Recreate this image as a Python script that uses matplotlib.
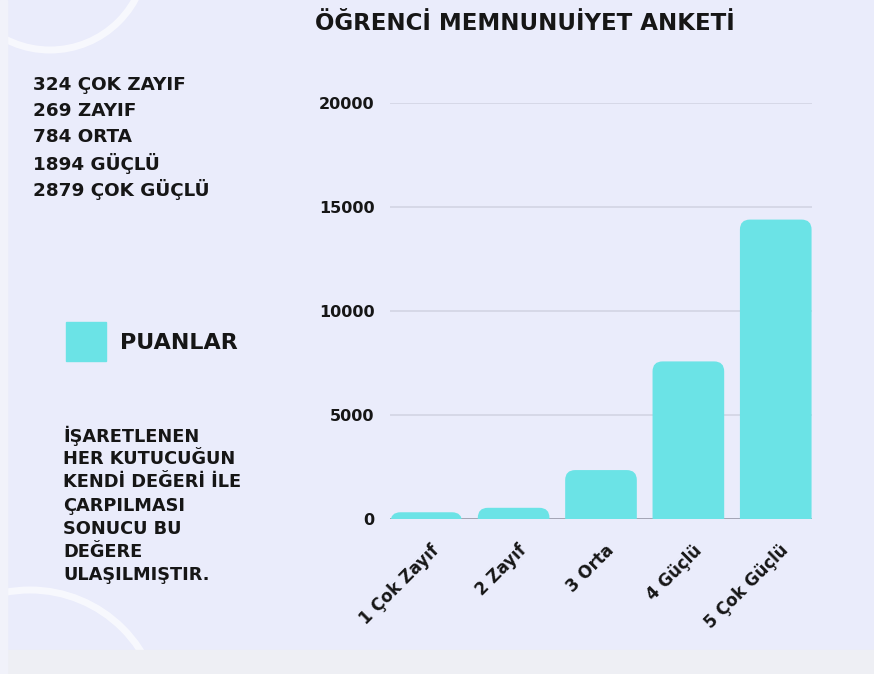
import numpy as np
import matplotlib.pyplot as plt
from matplotlib.patches import FancyBboxPatch, Rectangle, Circle
from matplotlib.transforms import ScaledTranslation

# ========== DATA ========== #

categories = ["1 Çok Zayıf", "2 Zayıf", "3 Orta", "4 Güçlü", "5 Çok Güçlü"]
counts = [324, 269, 784, 1894, 2879]
weights = [1, 2, 3, 4, 5]
scores = [c * w for c, w in zip(counts, weights)]  # puan = adet x değer
y_ticks = [0, 5000, 10000, 15000, 20000]

count_lines = ["324 ÇOK ZAYIF", "269 ZAYIF", "784 ORTA", "1894 GÜÇLÜ", "2879 ÇOK GÜÇLÜ"]
note_lines = ["İŞARETLENEN", "HER KUTUCUĞUN", "KENDİ DEĞERİ İLE", "ÇARPILMASI",
              "SONUCU BU", "DEĞERE", "ULAŞILMIŞTIR."]

# ========== STYLE ========== #

BG = "#EAECFB"
BAR = "#6BE3E6"
INK = "#161616"
W, H = 874, 674

plt.rcParams['font.family'] = ['DejaVu Sans']

fig = plt.figure(figsize=(W / 100, H / 100), dpi=100)
fig.patch.set_facecolor(BG)

# decorative rings
fig.patches.append(Circle((50, H + 47), 97, transform=None, fill=False,
                          ec="white", lw=5, alpha=0.65, zorder=0))
fig.patches.append(Circle((30, H - 721), 131, transform=None, fill=False,
                          ec="white", lw=5, alpha=0.65, zorder=0))

# light frame strips (bottom / left)
fig.patches.append(Rectangle((0, 0), W, H - 650, transform=None, color="#EEEFF4", zorder=1))
fig.patches.append(Rectangle((0, 0), 7, H, transform=None, color="#F1F2FA", zorder=1))

# ========== AXES ========== #

ax_l, ax_r, ax_b, ax_t = 390, 812, 519, 103
ax = fig.add_axes([ax_l / W, (H - ax_b) / H, (ax_r - ax_l) / W, (ax_b - ax_t) / H])
ax.set_facecolor("none")

x = np.arange(len(categories))
bw = 0.82
bars = ax.bar(x, scores, width=bw, color=BAR, zorder=3)
ax.set_xlim(-0.5 * bw - 0.005, len(categories) - 1 + 0.5 * bw + 0.005)
ax.set_ylim(0, 20000)

# rounded tops
xpp = (ax.get_xlim()[1] - ax.get_xlim()[0]) / (ax_r - ax_l)
ypp = 20000 / (ax_b - ax_t)
r_px = 10
for b in bars:
    b.set_visible(False)
    x0, w, h = b.get_x(), b.get_width(), b.get_height()
    ax.add_patch(FancyBboxPatch((x0, -r_px * ypp), w, h + r_px * ypp,
                                boxstyle=f"round,pad=0,rounding_size={r_px * xpp}",
                                mutation_aspect=ypp / xpp, fc=BAR, ec="none", zorder=3))

for yt in y_ticks[1:]:
    ax.axhline(yt, color="#D2D4E4", lw=1.2, zorder=1)
ax.axhline(0, color="#9C9EAE", lw=2, zorder=2)

for s in ax.spines.values():
    s.set_visible(False)

ax.set_yticks(y_ticks)
ax.set_yticklabels([str(v) for v in y_ticks], fontsize=11.5, fontweight="bold", color=INK)
ax.tick_params(axis="y", length=0, pad=11)

ax.set_xticks(x)
ax.set_xticklabels(categories, rotation=45, ha="right", rotation_mode="anchor",
                   fontsize=12, fontweight="bold", color=INK)
ax.tick_params(axis="x", length=0, pad=16)
for lab in ax.get_xticklabels():
    lab.set_transform(lab.get_transform() + ScaledTranslation(0.04, 0, fig.dpi_scale_trans))

# ========== TEXT ========== #

def fy(py):
    return 1 - py / H

fig.text(315 / W, fy(24), "ÖĞRENCİ MEMNUNUİYET ANKETİ", fontsize=16.5,
         fontweight="bold", color=INK, va="center", ha="left")

for i, line in enumerate(count_lines):
    fig.text(33 / W, fy(85 + 26 * i), line, fontsize=13.2, fontweight="bold",
             color=INK, va="center", ha="left")

fig.patches.append(Rectangle((66, H - 361), 40, 39, transform=None, color=BAR, zorder=2))
fig.text(120 / W, fy(343), "PUANLAR", fontsize=16, fontweight="bold",
         color=INK, va="center", ha="left")

for i, line in enumerate(note_lines):
    fig.text(63 / W, fy(436 + 23.2 * i), line, fontsize=12.8, fontweight="bold",
             color=INK, va="center", ha="left")

plt.savefig("out.png", dpi=100, facecolor=fig.get_facecolor())
